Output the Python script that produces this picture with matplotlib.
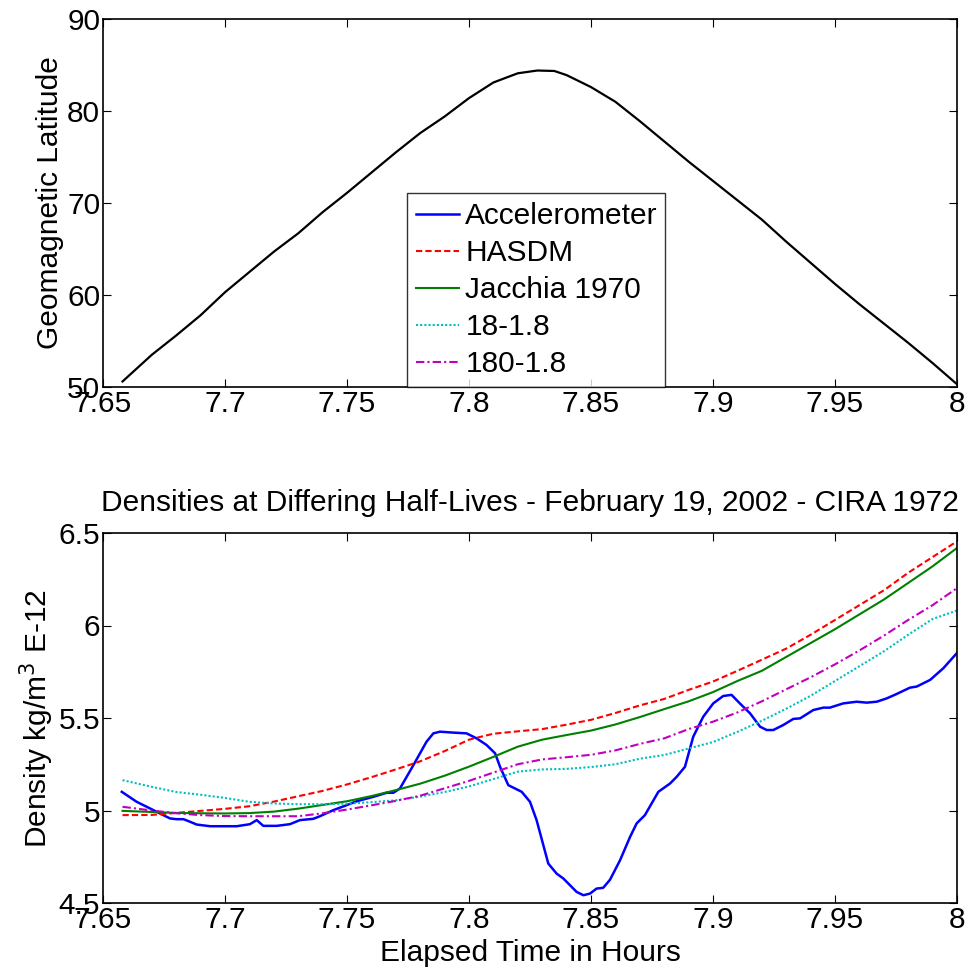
import numpy as np
import matplotlib.pyplot as plt

plt.rcParams['font.family'] = ['Liberation Sans', 'DejaVu Sans']

# --- top panel: geomagnetic latitude along the pass
lat_time = [7.658, 7.67, 7.68, 7.69, 7.70, 7.71, 7.72, 7.73, 7.74, 7.75,
            7.76, 7.77, 7.78, 7.79, 7.80, 7.81, 7.82, 7.828, 7.835, 7.84,
            7.85, 7.86, 7.87, 7.88, 7.89, 7.90, 7.91, 7.92, 7.93, 7.94,
            7.95, 7.96, 7.97, 7.98, 7.99, 8.00]
latitude = [50.6, 53.5, 55.6, 57.8, 60.3, 62.5, 64.7, 66.7, 69.0, 71.1,
            73.3, 75.5, 77.6, 79.4, 81.4, 83.1, 84.1, 84.4, 84.35, 83.9,
            82.6, 81.0, 78.9, 76.7, 74.5, 72.4, 70.3, 68.2, 65.8, 63.5,
            61.2, 59.0, 56.9, 54.8, 52.6, 50.3]

# --- bottom panel: model densities on a common grid
t_model = [7.658, 7.67, 7.68, 7.69, 7.70, 7.71, 7.72, 7.73, 7.74, 7.75,
           7.76, 7.77, 7.78, 7.79, 7.80, 7.81, 7.82, 7.83, 7.84, 7.85,
           7.86, 7.87, 7.88, 7.89, 7.90, 7.91, 7.92, 7.93, 7.94, 7.95,
           7.96, 7.97, 7.98, 7.99, 8.00]
hasdm = [4.975, 4.976, 4.987, 4.998, 5.009, 5.023, 5.048, 5.077, 5.106, 5.141,
         5.180, 5.222, 5.266, 5.321, 5.383, 5.415, 5.428, 5.440, 5.464, 5.490,
         5.527, 5.568, 5.603, 5.652, 5.697, 5.755, 5.815, 5.875, 5.950, 6.030,
         6.110, 6.190, 6.285, 6.370, 6.455]
jacchia = [4.998, 4.992, 4.987, 4.985, 4.984, 4.986, 4.994, 5.010, 5.030, 5.050,
           5.078, 5.110, 5.145, 5.188, 5.237, 5.290, 5.345, 5.383, 5.408, 5.432,
           5.465, 5.505, 5.548, 5.590, 5.640, 5.700, 5.755, 5.830, 5.905, 5.980,
           6.060, 6.140, 6.230, 6.320, 6.419]
hl_18 = [5.164, 5.128, 5.100, 5.085, 5.068, 5.047, 5.038, 5.034, 5.034, 5.037,
         5.045, 5.055, 5.075, 5.100, 5.130, 5.170, 5.210, 5.222, 5.225, 5.235,
         5.250, 5.280, 5.300, 5.335, 5.370, 5.425, 5.485, 5.550, 5.620, 5.700,
         5.780, 5.860, 5.950, 6.035, 6.081]
hl_180 = [5.020, 5.000, 4.985, 4.975, 4.970, 4.969, 4.969, 4.969, 4.985, 5.005,
          5.028, 5.052, 5.080, 5.120, 5.160, 5.205, 5.250, 5.276, 5.288, 5.301,
          5.325, 5.360, 5.390, 5.440, 5.480, 5.530, 5.590, 5.655, 5.720, 5.790,
          5.865, 5.945, 6.030, 6.110, 6.202]

# accelerometer has more structure, so its own time base
t_acc = [7.6577, 7.6638, 7.6693, 7.6747, 7.6775, 7.6802, 7.6830, 7.6857, 7.6884,
         7.6939, 7.7048, 7.7102, 7.7130, 7.7157, 7.7212, 7.7266, 7.7307, 7.7362,
         7.7389, 7.7444, 7.7499, 7.7540, 7.7608, 7.7663, 7.7690, 7.7717, 7.7772,
         7.7826, 7.7854, 7.7881, 7.7936, 7.7990, 7.8031, 7.8072, 7.8107, 7.8127,
         7.8161, 7.8216, 7.8250, 7.8277, 7.8325, 7.8359, 7.8387, 7.8441, 7.8469,
         7.8496, 7.8523, 7.8550, 7.8578, 7.8619, 7.8660, 7.8687, 7.8721, 7.8776,
         7.8824, 7.8851, 7.8885, 7.8919, 7.8960, 7.9001, 7.9042, 7.9076, 7.9110,
         7.9152, 7.9193, 7.9220, 7.9247, 7.9288, 7.9329, 7.9357, 7.9411, 7.9452,
         7.9479, 7.9534, 7.9589, 7.9630, 7.9671, 7.9712, 7.9753, 7.9807, 7.9835,
         7.9890, 7.9944, 7.9999]
accel = [5.101, 5.047, 5.011, 4.975, 4.957, 4.953, 4.953, 4.939, 4.924,
         4.915, 4.915, 4.926, 4.948, 4.917, 4.917, 4.926, 4.948, 4.955,
         4.969, 5.002, 5.029, 5.050, 5.074, 5.096, 5.096, 5.119, 5.245,
         5.372, 5.417, 5.426, 5.421, 5.417, 5.390, 5.354, 5.309, 5.237,
         5.137, 5.101, 5.047, 4.948, 4.713, 4.659, 4.632, 4.560, 4.542,
         4.551, 4.578, 4.582, 4.626, 4.731, 4.857, 4.930, 4.975, 5.101,
         5.146, 5.182, 5.236, 5.399, 5.507, 5.579, 5.619, 5.625, 5.579,
         5.525, 5.453, 5.435, 5.435, 5.462, 5.495, 5.498, 5.543, 5.556,
         5.556, 5.579, 5.588, 5.583, 5.588, 5.606, 5.630, 5.664, 5.670,
         5.706, 5.769, 5.850]

FS = 21.5


def _style(ax):
    ax.tick_params(direction='in', length=6, width=0.8, top=True, right=True,
                   labelsize=FS, pad=2)
    for s in ax.spines.values():
        s.set_linewidth(1.2)


fig = plt.figure(figsize=(9.7, 9.73), dpi=100)

ax1 = fig.add_axes([103 / 970, 1 - 387 / 973, 854 / 970, 368 / 973])
h_acc, = ax1.plot([], [], color='b', lw=1.8)
h_has, = ax1.plot([], [], color='r', lw=1.5, ls=(0, (3, 1.5)))
h_jac, = ax1.plot([], [], color='g', lw=1.5)
h_18, = ax1.plot([], [], color='c', lw=1.5, ls=(0, (1, 1)))
h_180, = ax1.plot([], [], color='m', lw=1.5, ls=(0, (4, 1.5, 1, 1.5)))
ax1.plot(lat_time, latitude, color='k', lw=1.6)
ax1.set_xlim(7.65, 8)
ax1.set_ylim(50, 90)
ax1.set_xticks([7.65, 7.7, 7.75, 7.8, 7.85, 7.9, 7.95, 8])
ax1.set_xticklabels(['7.65', '7.7', '7.75', '7.8', '7.85', '7.9', '7.95', '8'])
ax1.set_yticks([50, 60, 70, 80, 90])
ax1.set_ylabel('Geomagnetic Latitude', fontsize=FS, labelpad=2)
_style(ax1)
leg = ax1.legend([h_acc, h_has, h_jac, h_18, h_180],
                 ['Accelerometer', 'HASDM', 'Jacchia 1970', '18-1.8', '180-1.8'],
                 loc='lower left', bbox_to_anchor=(0.356, 0.0, 0.302, 0.531),
                 mode='expand', fontsize=FS, frameon=True, fancybox=False,
                 edgecolor='k', handlelength=1.45, handletextpad=0.2,
                 borderpad=0.3, labelspacing=0.3, borderaxespad=0)
leg.get_frame().set_linewidth(1.0)

ax2 = fig.add_axes([103 / 970, 1 - 903 / 973, 854 / 970, 370 / 973])
ax2.plot(t_acc, accel, color='b', lw=1.8)
ax2.plot(t_model, hasdm, color='r', lw=1.5, ls=(0, (3, 1.5)))
ax2.plot(t_model, jacchia, color='g', lw=1.5)
ax2.plot(t_model, hl_18, color='c', lw=1.5, ls=(0, (1, 1)))
ax2.plot(t_model, hl_180, color='m', lw=1.5, ls=(0, (4, 1.5, 1, 1.5)))
ax2.set_xlim(7.65, 8)
ax2.set_ylim(4.5, 6.5)
ax2.set_xticks([7.65, 7.7, 7.75, 7.8, 7.85, 7.9, 7.95, 8])
ax2.set_xticklabels(['7.65', '7.7', '7.75', '7.8', '7.85', '7.9', '7.95', '8'])
ax2.set_yticks([4.5, 5, 5.5, 6, 6.5])
ax2.set_yticklabels(['4.5', '5', '5.5', '6', '6.5'])
ax2.set_ylabel('Density kg/m$^3$ E-12', fontsize=FS, labelpad=2)
ax2.set_xlabel('Elapsed Time in Hours', fontsize=FS, labelpad=4)
ax2.set_title('Densities at Differing Half-Lives - February 19, 2002 - CIRA 1972',
              fontsize=21.5, pad=16)
_style(ax2)

fig.savefig('out.png', dpi=100)
